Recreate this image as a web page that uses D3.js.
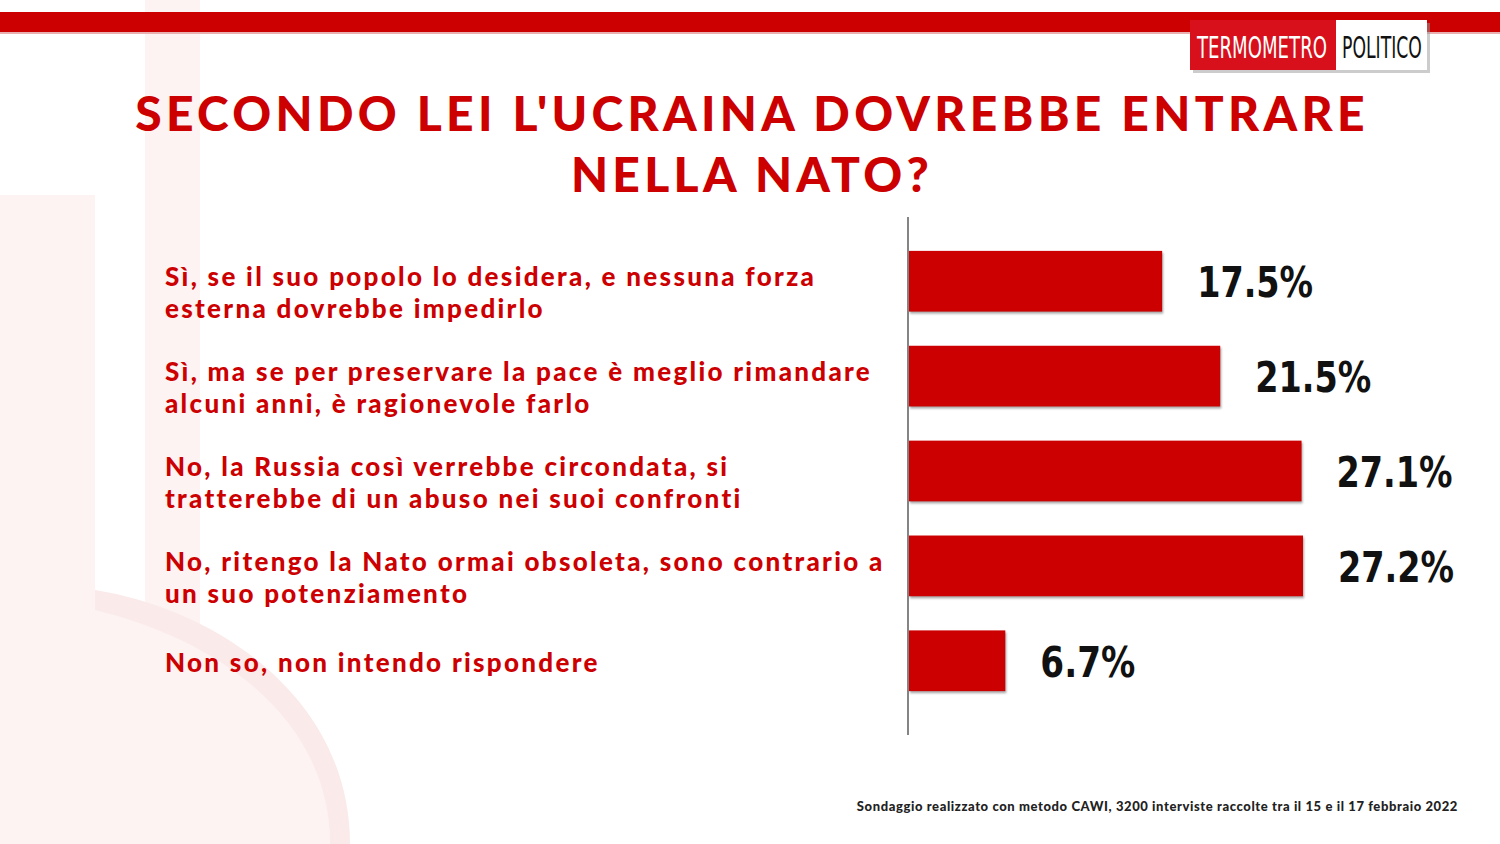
<!DOCTYPE html>
<html><head><meta charset="utf-8">
<script src="https://cdn.jsdelivr.net/npm/d3@7"></script>
<style>body{margin:0;background:#fff}svg{display:block}</style></head>
<body><svg id="c" width="1500" height="844"></svg>
<script>
const categories = [
 ["Sì, se il suo popolo lo desidera, e nessuna forza","esterna dovrebbe impedirlo"],
 ["Sì, ma se per preservare la pace è meglio rimandare","alcuni anni, è ragionevole farlo"],
 ["No, la Russia così verrebbe circondata, si","tratterebbe di un abuso nei suoi confronti"],
 ["No, ritengo la Nato ormai obsoleta, sono contrario a","un suo potenziamento"],
 ["Non so, non intendo rispondere"]
];
const values = [17.5, 21.5, 27.1, 27.2, 6.7];
const titleLines = ["SECONDO LEI L'UCRAINA DOVREBBE ENTRARE","NELLA NATO?"];
const footnote = "Sondaggio realizzato con metodo CAWI, 3200 interviste raccolte tra il 15 e il 17 febbraio 2022";

const red = "#cc0000";
const svg = d3.select("#c");
// watermark
svg.append("rect").attr("x",145).attr("y",0).attr("width",55).attr("height",844).attr("fill","#fdf3f3");
svg.append("path").attr("d","M0,195 L95,195 L95,590 C200,620 330,700 330,844 L0,844 Z").attr("fill","#fdf3f3");
svg.append("path").attr("d","M95,590 C220,610 350,700 350,844 L330,844 C330,720 220,640 95,610 Z").attr("fill","#fbeaea");
// top bar
svg.append("rect").attr("x",0).attr("y",12).attr("width",1500).attr("height",20).attr("fill",red);
svg.append("rect").attr("x",0).attr("y",32).attr("width",1500).attr("height",2).attr("fill","#e8b0b0");
// logo
svg.append("rect").attr("x",1193).attr("y",23).attr("width",237).attr("height",50).attr("fill","#999").attr("opacity",0.5);
svg.append("rect").attr("x",1190).attr("y",20).attr("width",146).attr("height",50).attr("fill","#d8101c");
svg.append("rect").attr("x",1336).attr("y",20).attr("width",91).attr("height",50).attr("fill","#fff");
function squeezed(txt, x0, target, fill){
  const g = svg.append("g");
  const t = g.append("text").attr("x",0).attr("y",0).attr("fill",fill)
    .attr("font-family","DejaVu Sans Condensed").attr("font-size",30).text(txt);
  const w = t.node().getComputedTextLength();
  g.attr("transform",`translate(${x0},58) scale(${target/w},1)`);
}
squeezed("TERMOMETRO",1197,130,"#fff");
squeezed("POLITICO",1342,80,"#111");
// title
titleLines.forEach((t,i)=>svg.append("text").attr("x",752).attr("y",131+i*61).attr("text-anchor","middle")
 .attr("fill",red).attr("font-family","Lato").attr("font-weight",900).attr("font-size",48)
 .attr("letter-spacing",4.3).text(t));

const x = d3.scaleLinear().domain([0,27.2]).range([908,1303]);
const y = d3.scaleBand().domain(d3.range(values.length)).range([230,712]).paddingInner(0.36).paddingOuter(0.22);
svg.append("line").attr("x1",908).attr("x2",908).attr("y1",217).attr("y2",735).attr("stroke","#333").attr("stroke-width",1.2);
svg.selectAll(".bar").data(values).join("rect").attr("x",x(0)+1).attr("y",(d,i)=>y(i))
 .attr("width",d=>x(d)-x(0)-1).attr("height",y.bandwidth()).attr("fill",red)
 .attr("filter","drop-shadow(1px 2px 1px rgba(0,0,0,0.35))");
svg.selectAll(".val").data(values).join("text").attr("x",d=>x(d)+35).attr("y",(d,i)=>y(i)+y.bandwidth()/2+16)
 .attr("font-family","DejaVu Sans Condensed").attr("font-weight","bold").attr("font-size",42).attr("fill","#111")
 .attr("textLength",d=>d<10?95:116).attr("lengthAdjust","spacingAndGlyphs")
 .text(d=>d.toFixed(1)+"%");
categories.forEach((lines,i)=>{
  const cy = y(i)+y.bandwidth()/2;
  const base = lines.length>1 ? cy+5 : cy+11;
  lines.forEach((l,j)=>svg.append("text").attr("x",165).attr("y",base + j*32)
   .attr("fill",red).attr("font-family","Lato").attr("font-weight",900).attr("font-size",26).attr("letter-spacing",2.3).text(l));
});
svg.append("text").attr("x",1458).attr("y",811).attr("text-anchor","end").attr("font-family","Lato").attr("font-weight",900)
 .attr("font-size",13).attr("letter-spacing",0.6).attr("fill","#222").text(footnote);
</script></body></html>
